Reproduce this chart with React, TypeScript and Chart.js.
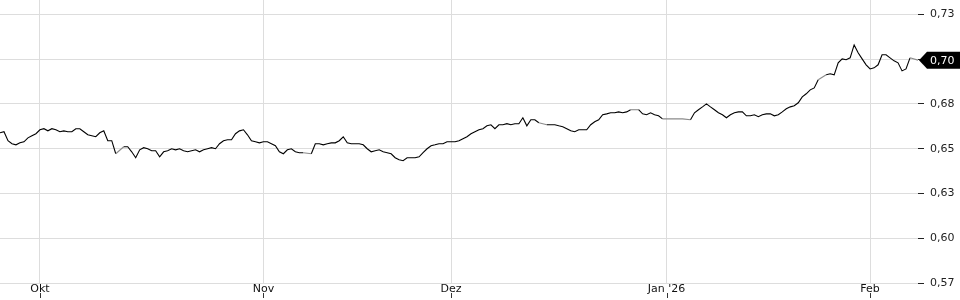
import { useEffect, useRef } from 'react';
import { Chart, registerables } from 'chart.js';

Chart.register(...registerables);

// Closing prices (sampled evenly along trading time), grouped by month
const preOkt = [0.6589, 0.6595, 0.6545, 0.6528, 0.6522, 0.6533, 0.6539, 0.6561, 0.6573, 0.6584];
const okt = [
  0.6606, 0.6612, 0.66, 0.6612, 0.6606, 0.6595, 0.66, 0.6595, 0.6595, 0.6612,
  0.6612, 0.6595, 0.6578, 0.6573, 0.6567, 0.6589, 0.66, 0.6545, 0.6545, 0.6472,
  null, 0.6511, 0.6511, 0.6483, 0.645, 0.6494, 0.6506, 0.65, 0.6489, 0.6489,
  0.6455, 0.6483, 0.6489, 0.65, 0.6494, 0.65, 0.6489, 0.6483, 0.6489, 0.6494,
  0.6483, 0.6494, 0.65, 0.6506, 0.65, 0.6528, 0.6545, 0.655, 0.655, 0.6584,
  0.66, 0.6606, 0.6578, 0.6545, 0.6539, 0.6533,
];
const nov = [
  0.6539, 0.6539, 0.6528, 0.6517, 0.6483, 0.6472, 0.6494, 0.65, 0.6483, 0.6478,
  0.6478, null, 0.6472, 0.6528, 0.6528, 0.6522, 0.6528, 0.6533, 0.6533, 0.6545,
  0.6567, 0.6533, 0.6528, 0.6528, 0.6528, 0.6522, 0.65, 0.6483, 0.6489, 0.6494,
  0.6483, 0.6478, 0.6472, 0.645, 0.6439, 0.6433, 0.645, 0.645, 0.645, 0.6455,
  0.6478, 0.65, 0.6517, 0.6522, 0.6528, 0.6528, 0.6539,
];
const dez = [
  0.6539, 0.6539, 0.6545, 0.6556, 0.6567, 0.6584, 0.6595, 0.6606, 0.6612, 0.6628,
  0.6634, 0.6612, 0.6634, 0.6634, 0.664, 0.6634, 0.664, 0.664, 0.6673, 0.6628,
  0.6662, 0.6662, 0.6645, null, 0.6634, 0.6634, 0.6634, 0.6628, 0.6623, 0.6612,
  0.66, 0.6595, 0.6606, 0.6606, 0.6606, 0.6634, 0.6651, 0.6662, 0.669, 0.6695,
  0.6701, 0.6701, 0.6706, 0.6701, 0.6706, 0.6718, null, 0.6718, 0.6695, 0.669,
  0.6701, 0.669, 0.6684, 0.6667,
];
const jan = [
  null, null, null, null, 0.6667, null, 0.6662, 0.6701, 0.6718, 0.6734,
  0.6751, 0.6734, 0.6718, 0.6701, 0.669, 0.6673, 0.669, 0.6701, 0.6706, 0.6706,
  0.6684, 0.6684, 0.669, 0.6679, 0.669, 0.6695, 0.6695, 0.6684, 0.669, 0.6706,
  0.6723, 0.6734, 0.674, 0.6757, 0.679, 0.6807, 0.6829, 0.684, 0.6885, null,
  0.6913, 0.6919, 0.6913, 0.698, 0.7002, 0.6997, 0.7008, 0.708, 0.7036, 0.7002,
  0.6969,
];
const feb = [0.6946, 0.6952, 0.6969, 0.7025, 0.7025, 0.7008, 0.6991, 0.698, 0.6935, 0.6946, 0.7008, null, 0.6995];

const monthLabels = ['Okt', 'Nov', 'Dez', "Jan '26", 'Feb'];
const yTickValues = [0.575, 0.6, 0.625, 0.65, 0.675, 0.7, 0.725];
const yTickLabels = ['0,57', '0,60', '0,63', '0,65', '0,68', '0,70', '0,73'];

const monthBlocks = [okt, nov, dez, jan, feb];
const values: (number | null)[] = [...preOkt, ...okt, ...nov, ...dez, ...jan, ...feb];

export default function App() {
  const ref = useRef<HTMLCanvasElement | null>(null);

  useEffect(() => {
    document.body.style.margin = '0';
    const canvas = ref.current;
    if (!canvas) return;

    const monthStarts: number[] = [];
    let acc = preOkt.length;
    for (const b of monthBlocks) {
      monthStarts.push(acc);
      acc += b.length;
    }
    const lastValue = values[values.length - 1] as number;

    const extras = {
      id: 'extras',
      afterDraw(chart: any) {
        const ctx = chart.ctx;
        const xs = chart.scales.x;
        const ys = chart.scales.y;
        const area = chart.chartArea;
        ctx.save();
        ctx.strokeStyle = '#333';
        ctx.lineWidth = 1;
        for (const t of xs.ticks) {
          const px = Math.round(xs.getPixelForValue(t.value)) + 0.5;
          ctx.beginPath();
          ctx.moveTo(px, 293);
          ctx.lineTo(px, 298);
          ctx.stroke();
        }
        const y = ys.getPixelForValue(lastValue);
        const tip = area.right + 1;
        const h = 8.5;
        ctx.fillStyle = '#000';
        ctx.beginPath();
        ctx.moveTo(tip, y);
        ctx.lineTo(tip + 8, y - h);
        ctx.lineTo(chart.width, y - h);
        ctx.lineTo(chart.width, y + h);
        ctx.lineTo(tip + 8, y + h);
        ctx.closePath();
        ctx.fill();
        ctx.fillStyle = '#fff';
        ctx.font = '11px "DejaVu Sans"';
        ctx.textBaseline = 'middle';
        ctx.textAlign = 'left';
        ctx.fillText(lastValue.toFixed(2).replace('.', ','), area.right + 12, y + 0.5);
        ctx.restore();
      },
    };

    const chart = new Chart(canvas, {
      type: 'line',
      data: {
        datasets: [
          {
            data: values.map((v, i) => ({ x: i, y: v })) as any,
            borderColor: '#000',
            borderWidth: 1.1,
            pointRadius: 0,
            tension: 0,
            spanGaps: true,
            segment: {
              borderColor: (c: any) => (c.p0.skip || c.p1.skip ? '#8a8a8a' : undefined),
            },
          },
        ],
      },
      options: {
        animation: false,
        responsive: false,
        events: [],
        layout: { padding: 0 },
        plugins: { legend: { display: false }, tooltip: { enabled: false } },
        scales: {
          x: {
            type: 'linear',
            min: 0,
            max: values.length - 1,
            afterBuildTicks: (s: any) => {
              s.ticks = monthStarts.map((v) => ({ value: v }));
            },
            afterFit: (s: any) => {
              s.height = 17;
              s.paddingLeft = 0;
              s.paddingRight = 0;
            },
            grid: { color: '#dddddd', drawTicks: false },
            border: { display: false },
            ticks: {
              autoSkip: false,
              maxRotation: 0,
              padding: 0,
              color: '#111',
              font: { family: 'DejaVu Sans', size: 11 },
              callback: (_v: any, i: number) => monthLabels[i],
            },
          },
          y: {
            type: 'linear',
            position: 'right',
            min: 0.575,
            max: 0.7331,
            afterBuildTicks: (s: any) => {
              s.ticks = yTickValues.map((v) => ({ value: v }));
            },
            afterFit: (s: any) => {
              s.width = 42;
              s.paddingTop = 0;
              s.paddingBottom = 0;
            },
            grid: { color: '#dddddd', tickColor: '#222', tickLength: 6, drawTicks: true },
            border: { display: false },
            ticks: {
              padding: 6,
              color: '#222',
              font: { family: 'DejaVu Sans', size: 11 },
              callback: (_v: any, i: number) => yTickLabels[i],
            },
          },
        },
      },
      plugins: [extras],
    });

    return () => chart.destroy();
  }, []);

  return (
    <div style={{ width: 960, height: 300 }}>
      <canvas ref={ref} width={960} height={300} style={{ display: 'block' }} />
    </div>
  );
}
